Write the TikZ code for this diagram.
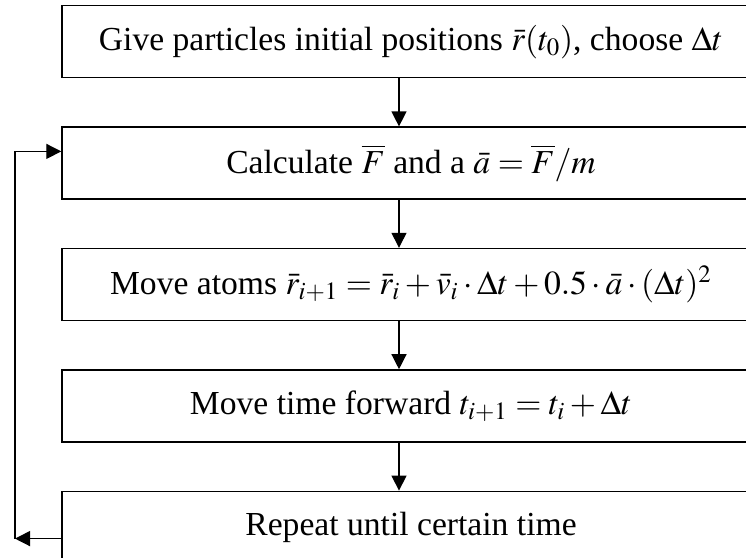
\documentclass[tikz,border=0pt]{standalone}
\usepackage{mathptmx}
\usepackage{fontspec}
\setmainfont{Liberation Serif}
\usetikzlibrary{arrows.meta,positioning}

\begin{document}
\begin{tikzpicture}[
      font=\fontsize{16.8}{19}\selectfont,
      stepbox/.style={draw=black,line width=0.7pt,minimum width=349pt,minimum height=36pt,
                      inner sep=0pt,align=center},
      ar/.style={-{Triangle[length=7.5pt,width=7.5pt]},line width=0.65pt}]
      \useasboundingbox (0,0) rectangle (373pt,-279pt);
      \clip (0,0) rectangle (373pt,-279pt);
      \coordinate (axis) at (199.5pt,0);
      \coordinate (back) at (7.5pt,0);
      \node[stepbox] (init) at (205.5pt,-20.85pt) {Give particles initial positions $\bar{r}(t_0)$, choose $\Delta t$};
      \node[stepbox,below=24pt of init] (force) {Calculate $\overline{F}$ and a $\bar{a}=\overline{F}/m$};
      \node[stepbox,below=24pt of force] (move) {Move atoms $\bar{r}_{i+1}=\bar{r}_i+\bar{v}_i\cdot\Delta t+0.5\cdot\bar{a}\cdot(\Delta t)^2$};
      \node[stepbox,below=24pt of move] (time) {Move time forward $t_{i+1}=t_i+\Delta t$};
      \node[stepbox,below=24pt of time] (again) {Repeat until certain time};
      \draw[ar] (init.south -| axis) -- (force.north -| axis);
      \draw[ar] (force.south -| axis) -- (move.north -| axis);
      \draw[ar] (move.south -| axis) -- (time.north -| axis);
      \draw[ar] (time.south -| axis) -- (again.north -| axis);
      % loop back to the force step
      \draw[ar] ([yshift=-5.65pt]again.west) -- ([yshift=-5.65pt]again.west -| back);
      \draw[ar] ([yshift=-5.65pt]again.west -| back) |- ([yshift=5.85pt]force.west);
\end{tikzpicture}
\end{document}
